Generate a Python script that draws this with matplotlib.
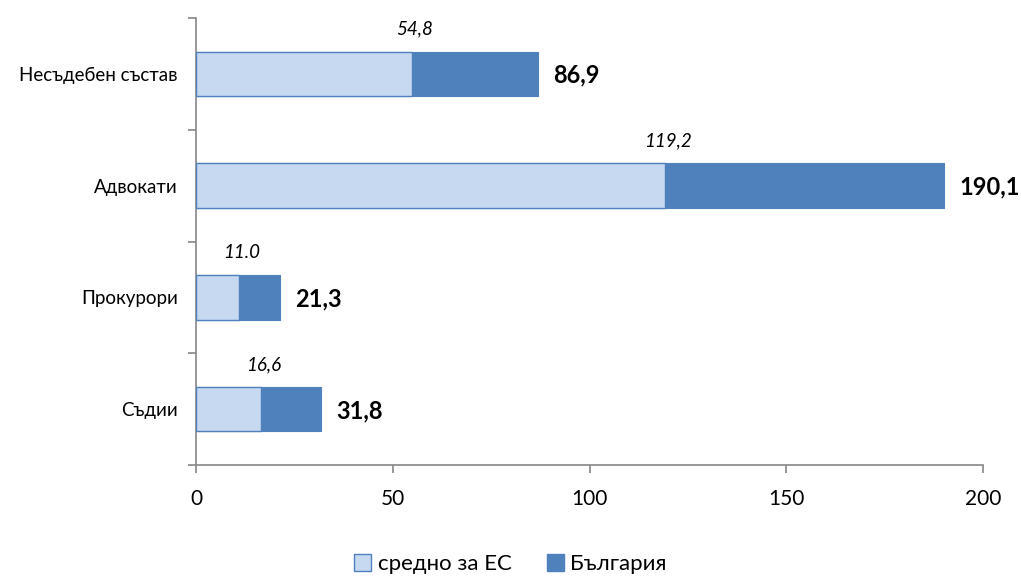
import matplotlib
matplotlib.use("Agg")
import matplotlib.pyplot as plt
from matplotlib.patches import Patch

plt.rcParams["font.family"] = ["Lato", "DejaVu Sans"]

# ── data (bottom to top) ──────────────────────────────────────────────────────
categories = ["Съдии", "Прокурори", "Адвокати", "Несъдебен състав"]
eu_avg = [16.6, 11.0, 119.2, 54.8]
bulgaria = [31.8, 21.3, 190.1, 86.9]
eu_labels = ["16,6", "11.0", "119,2", "54,8"]
bg_labels = ["31,8", "21,3", "190,1", "86,9"]
x_ticks = [0, 50, 100, 150, 200]

COL_EU = "#C6D9F1"
COL_BG = "#4F81BD"
COL_AXIS = "#868686"

W, H = 1021, 577
fig = plt.figure(figsize=(W / 100, H / 100), dpi=100)
ax = fig.add_axes([196 / W, (H - 465) / H, (983 - 196) / W, (465 - 18) / H])

ypos = list(range(len(categories)))
bar_h = 0.40
ax.barh(ypos, bulgaria, height=bar_h, color=COL_BG, edgecolor=COL_BG,
        linewidth=0.8, zorder=2)
ax.barh(ypos, eu_avg, height=bar_h, color=COL_EU, edgecolor=COL_BG,
        linewidth=1.0, zorder=3)

for y, e, el, b, bl in zip(ypos, eu_avg, eu_labels, bulgaria, bg_labels):
    ax.annotate(el, (e, y + bar_h / 2), xytext=(2, 10), textcoords="offset points",
                ha="center", va="bottom", fontsize=13.5, style="italic")
    ax.annotate(bl, (b, y), xytext=(11, -1), textcoords="offset points",
                ha="left", va="center", fontsize=17, fontweight="bold")

ax.set_xlim(0, 200)
ax.set_ylim(-0.5, len(categories) - 0.5)
ax.set_xticks(x_ticks)
ax.set_xticklabels([str(t) for t in x_ticks], fontsize=15)

# category boundaries carry the tick marks, labels sit at the centres
ax.set_yticks([i - 0.5 for i in range(len(categories) + 1)])
ax.set_yticklabels([])
ax.set_yticks(ypos, minor=True)
ax.set_yticklabels(categories, minor=True, fontsize=13.5)
ax.tick_params(axis="y", which="minor", length=0, pad=13)
ax.tick_params(axis="y", which="major", length=6, width=1.2, color=COL_AXIS,
               direction="out")
ax.tick_params(axis="x", length=6, width=1.2, color=COL_AXIS, direction="out",
               pad=11)

for side in ("top", "right"):
    ax.spines[side].set_visible(False)
for side in ("left", "bottom"):
    ax.spines[side].set_color(COL_AXIS)
    ax.spines[side].set_linewidth(1.2)

handles = [Patch(facecolor=COL_EU, edgecolor=COL_BG, label="средно за ЕС"),
           Patch(facecolor=COL_BG, edgecolor=COL_BG, label="България")]
fig.legend(handles=handles, loc="center", bbox_to_anchor=(0.5, 0.022),
           ncol=2, frameon=False, fontsize=16, handlelength=0.75,
           handleheight=0.75, handletextpad=0.3, columnspacing=1.6)

fig.savefig("out.png", dpi=100)
